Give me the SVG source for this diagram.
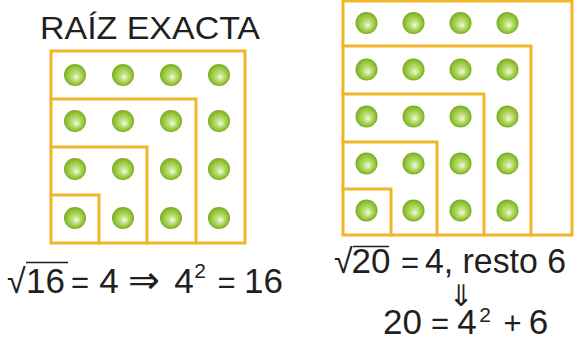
<svg xmlns="http://www.w3.org/2000/svg" width="576" height="340" viewBox="0 0 576 340">
  <defs>
    <radialGradient id="ball" cx="0.5" cy="0.5" r="0.5" fx="0.58" fy="0.62">
      <stop offset="0" stop-color="#f3fae4"/>
      <stop offset="0.35" stop-color="#bfe07a"/>
      <stop offset="0.8" stop-color="#8fc233"/>
      <stop offset="1" stop-color="#77a823"/>
    </radialGradient>
  </defs>
  <style>
    .frame { fill: none; stroke: #f0b52b; stroke-width: 3; stroke-linecap: square; }
    .dot { fill: url(#ball); }
    .t { font-family: "Liberation Sans", "DejaVu Sans", sans-serif; fill: #231f20; }
    .eq { font-size: 35px; text-anchor: middle; }
    .op { font-size: 31px; text-anchor: middle; }
    .sup { font-size: 21px; text-anchor: middle; }
    .sym { font-family: "DejaVu Sans", "Liberation Sans", sans-serif; fill: #231f20; text-anchor: middle; }
    .vinc { stroke: #231f20; stroke-width: 1.5; }
  </style>
  <rect width="576" height="340" fill="#ffffff"/>

  <g id="title">
    <text class="t" x="40" y="38.5" font-size="32" textLength="220" lengthAdjust="spacingAndGlyphs">RAÍZ EXACTA</text>
  </g>

  <g id="left-square">
    <rect class="frame" x="51" y="51" width="194" height="192"/>
    <polyline class="frame" points="51,99 196,99 196,243"/>
    <polyline class="frame" points="51,147 147,147 147,243"/>
    <polyline class="frame" points="51,195 99,195 99,243"/>
    <g id="left-dots">
      <circle class="dot" cx="75" cy="75" r="11"/>
      <circle class="dot" cx="123" cy="75" r="11"/>
      <circle class="dot" cx="171" cy="75" r="11"/>
      <circle class="dot" cx="219" cy="75" r="11"/>
      <circle class="dot" cx="75" cy="121" r="11"/>
      <circle class="dot" cx="123" cy="121" r="11"/>
      <circle class="dot" cx="171" cy="121" r="11"/>
      <circle class="dot" cx="219" cy="121" r="11"/>
      <circle class="dot" cx="75" cy="169" r="11"/>
      <circle class="dot" cx="123" cy="169" r="11"/>
      <circle class="dot" cx="171" cy="169" r="11"/>
      <circle class="dot" cx="219" cy="169" r="11"/>
      <circle class="dot" cx="75" cy="218" r="11"/>
      <circle class="dot" cx="123" cy="218" r="11"/>
      <circle class="dot" cx="171" cy="218" r="11"/>
      <circle class="dot" cx="219" cy="218" r="11"/>
    </g>
  </g>

  <g id="left-equation">
    <text class="t" x="7" y="293" font-size="34">√</text>
    <line class="vinc" x1="26" y1="262.5" x2="68" y2="262.5"/>
    <text class="t eq" x="45.5" y="293">16</text>
    <text class="t op" x="80" y="293">=</text>
    <text class="t eq" x="109" y="293">4</text>
    <text class="sym" x="144" y="293" font-size="38">⇒</text>
    <text class="t eq" x="184" y="293">4</text>
    <text class="t sup" x="200" y="278">2</text>
    <text class="t op" x="226.5" y="293">=</text>
    <text class="t eq" x="263.5" y="293">16</text>
  </g>

  <g id="right-square">
    <rect class="frame" x="343" y="1" width="229" height="234"/>
    <polyline class="frame" points="343,46 531,46 531,235"/>
    <polyline class="frame" points="343,94 484,94 484,235"/>
    <polyline class="frame" points="343,142 437,142 437,235"/>
    <polyline class="frame" points="343,189 391,189 391,235"/>
    <g id="right-dots">
      <circle class="dot" cx="366.5" cy="23" r="11"/>
      <circle class="dot" cx="413.5" cy="23" r="11"/>
      <circle class="dot" cx="460.5" cy="23" r="11"/>
      <circle class="dot" cx="507.5" cy="23" r="11"/>
      <circle class="dot" cx="366.5" cy="69.5" r="11"/>
      <circle class="dot" cx="413.5" cy="69.5" r="11"/>
      <circle class="dot" cx="460.5" cy="69.5" r="11"/>
      <circle class="dot" cx="507.5" cy="69.5" r="11"/>
      <circle class="dot" cx="366.5" cy="116.5" r="11"/>
      <circle class="dot" cx="413.5" cy="116.5" r="11"/>
      <circle class="dot" cx="460.5" cy="116.5" r="11"/>
      <circle class="dot" cx="507.5" cy="116.5" r="11"/>
      <circle class="dot" cx="366.5" cy="163.5" r="11"/>
      <circle class="dot" cx="413.5" cy="163.5" r="11"/>
      <circle class="dot" cx="460.5" cy="163.5" r="11"/>
      <circle class="dot" cx="507.5" cy="163.5" r="11"/>
      <circle class="dot" cx="366.5" cy="210.5" r="11"/>
      <circle class="dot" cx="413.5" cy="210.5" r="11"/>
      <circle class="dot" cx="460.5" cy="210.5" r="11"/>
      <circle class="dot" cx="507.5" cy="210.5" r="11"/>
    </g>
  </g>

  <g id="right-equation">
    <text class="t" x="334" y="273" font-size="34">√</text>
    <line class="vinc" x1="353" y1="246.5" x2="389" y2="246.5"/>
    <text class="t eq" x="371" y="273">20</text>
    <text class="t op" x="410" y="273">=</text>
    <text class="t" x="425" y="273" font-size="35" textLength="141" lengthAdjust="spacingAndGlyphs">4, resto 6</text>
    <text class="sym" x="461" y="306" font-size="30">⇓</text>
    <text class="t eq" x="402.5" y="334">20</text>
    <text class="t op" x="440" y="334">=</text>
    <text class="t eq" x="467" y="334">4</text>
    <text class="t sup" x="485" y="322">2</text>
    <text class="t op" x="512.5" y="334">+</text>
    <text class="t eq" x="538.5" y="334">6</text>
  </g>
</svg>
